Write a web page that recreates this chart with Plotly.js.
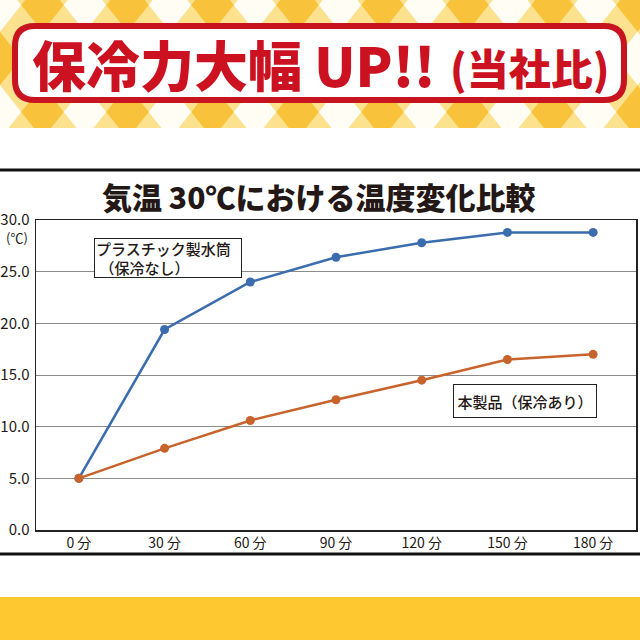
<!DOCTYPE html>
<html>
<head>
<meta charset="utf-8">
<script src="https://cdn.plot.ly/plotly-3.0.1.min.js"></script>
<style>html,body{margin:0;padding:0;background:#fff;}#chart{width:640px;height:640px;}</style>
</head>
<body>
<div id="chart"></div>
<script>
// ---- data ----
const timeLabels = ['0 分', '30 分', '60 分', '90 分', '120 分', '150 分', '180 分'];
const plasticTemps = [5.0, 19.4, 24.0, 26.4, 27.8, 28.8, 28.8];
const productTemps = [5.0, 7.9, 10.6, 12.6, 14.5, 16.5, 17.0];
const yTicks = [0, 5, 10, 15, 20, 25, 30];

const bannerText = '保冷力大幅 UP!!';
const bannerSub = '(当社比)';
const chartTitle = '気温 30℃における温度変化比較';
const plasticLabel = 'プラスチック製水筒<br> （保冷なし）';
const productLabel = '本製品（保冷あり）';
const unitLabel = '(℃)';

// ---- helpers (pixel -> paper) ----
const W = 640, H = 640;
const px = x => x / W;
const py = y => 1 - y / H;
const P = (x, y) => px(x).toFixed(5) + ',' + py(y).toFixed(5);

const FONT = '"Noto Sans CJK JP", "Noto Sans", sans-serif';
const shapes = [];

// banner background
shapes.push({type: 'rect', xref: 'paper', yref: 'paper', x0: 0, x1: 1, y0: py(128), y1: 1,
  fillcolor: '#fce28f', line: {width: 0}});
// diamonds
const hx = 21.25, hy = 26.75;
for (let m = 0; m < 3; m++) {
  const cy = 5 + 53.5 * m;
  for (let k = -1; k < 17; k++) {
    const cx = 42.5 * k;
    const dark = ((k + m) % 2 + 2) % 2 === 1;
    shapes.push({type: 'path', xref: 'paper', yref: 'paper',
      path: 'M' + P(cx - hx, cy) + ' L' + P(cx, cy - hy) + ' L' + P(cx + hx, cy) + ' L' + P(cx, cy + hy) + ' Z',
      fillcolor: dark ? '#f8c33b' : '#fffdf4', line: {width: 0}});
  }
}
// white band under banner
shapes.push({type: 'rect', xref: 'paper', yref: 'paper', x0: 0, x1: 1, y0: py(170), y1: py(128),
  fillcolor: '#ffffff', line: {width: 0}});
// red rounded box
(function () {
  const x0 = 15, x1 = 624, y0 = 26, y1 = 100, r = 20;
  const path = 'M' + P(x0 + r, y0) + ' L' + P(x1 - r, y0) + ' Q' + P(x1, y0) + ' ' + P(x1, y0 + r) +
    ' L' + P(x1, y1 - r) + ' Q' + P(x1, y1) + ' ' + P(x1 - r, y1) +
    ' L' + P(x0 + r, y1) + ' Q' + P(x0, y1) + ' ' + P(x0, y1 - r) +
    ' L' + P(x0, y0 + r) + ' Q' + P(x0, y0) + ' ' + P(x0 + r, y0) + ' Z';
  shapes.push({type: 'path', xref: 'paper', yref: 'paper', path: path,
    fillcolor: '#ffffff', line: {color: '#c8141e', width: 6}});
})();
// black rules
shapes.push({type: 'line', xref: 'paper', yref: 'paper', x0: 0, x1: 1, y0: py(170), y1: py(170),
  line: {color: '#111', width: 3}});
shapes.push({type: 'line', xref: 'paper', yref: 'paper', x0: 0, x1: 1, y0: py(554), y1: py(554),
  line: {color: '#111', width: 3}});
// yellow bottom band
shapes.push({type: 'rect', xref: 'paper', yref: 'paper', x0: 0, x1: 1, y0: 0, y1: py(597),
  fillcolor: '#fdc830', line: {width: 0}});

const annotations = [
  {text: bannerText, xref: 'paper', yref: 'paper', x: px(30), y: py(64),
   xanchor: 'left', yanchor: 'middle', showarrow: false,
   font: {family: FONT, size: 54, color: '#cc1120', weight: 900}},
  {text: bannerSub, xref: 'paper', yref: 'paper', x: px(612), y: py(66),
   xanchor: 'right', yanchor: 'middle', showarrow: false,
   font: {family: FONT, size: 42, color: '#cc1120', weight: 900}},
  {text: chartTitle, xref: 'paper', yref: 'paper', x: px(318), y: py(196),
   xanchor: 'center', yanchor: 'middle', showarrow: false,
   font: {family: FONT, size: 30, color: '#231815', weight: 900}},
  {text: unitLabel, xref: 'paper', yref: 'paper', x: px(17), y: py(238),
   xanchor: 'center', yanchor: 'middle', showarrow: false,
   font: {family: FONT, size: 13, color: '#231815'}},
  {text: plasticLabel, xref: 'paper', yref: 'paper', x: px(168), y: py(258),
   xanchor: 'center', yanchor: 'middle', showarrow: false, align: 'left',
   width: 144, height: 36, bgcolor: '#ffffff', bordercolor: '#222', borderwidth: 1, borderpad: 1,
   font: {family: FONT, size: 15, color: '#231815', weight: 500}},
  {text: productLabel, xref: 'paper', yref: 'paper', x: px(525), y: py(401),
   xanchor: 'center', yanchor: 'middle', showarrow: false, align: 'center',
   width: 140, height: 30, bgcolor: '#ffffff', bordercolor: '#222', borderwidth: 1, borderpad: 1,
   font: {family: FONT, size: 15, color: '#231815', weight: 500}}
];

const traces = [
  {x: timeLabels, y: plasticTemps, type: 'scatter', mode: 'lines+markers', name: 'プラスチック製水筒',
   line: {color: '#3a6cae', width: 2.5}, marker: {color: '#3a6cae', size: 9}},
  {x: timeLabels, y: productTemps, type: 'scatter', mode: 'lines+markers', name: '本製品',
   line: {color: '#c8632c', width: 2.5}, marker: {color: '#c8632c', size: 9}}
];

const layout = {
  width: W, height: H,
  margin: {l: 0, r: 0, t: 0, b: 0, pad: 0},
  paper_bgcolor: '#ffffff', plot_bgcolor: '#ffffff',
  showlegend: false,
  font: {family: FONT, color: '#231815'},
  xaxis: {
    type: 'category', categoryorder: 'array', categoryarray: timeLabels,
    range: [-0.5, 6.5], domain: [px(36), px(636)],
    showgrid: false, zeroline: false,
    showline: true, linecolor: '#222', linewidth: 1.5, mirror: true,
    ticks: '', tickfont: {family: FONT, size: 14, color: '#231815'}, fixedrange: true
  },
  yaxis: {
    range: [0, 30], domain: [py(530), py(220)],
    tickvals: yTicks, tickformat: '.1f',
    showgrid: true, gridcolor: '#8c8c8c', gridwidth: 1, zeroline: false,
    showline: true, linecolor: '#222', linewidth: 1.5, mirror: true,
    ticks: '', ticklabelstandoff: 2,
    tickfont: {family: FONT, size: 15, color: '#231815'}, fixedrange: true
  },
  shapes: shapes,
  annotations: annotations
};

Plotly.newPlot('chart', traces, layout, {displayModeBar: false, staticPlot: true});
</script>
</body>
</html>
